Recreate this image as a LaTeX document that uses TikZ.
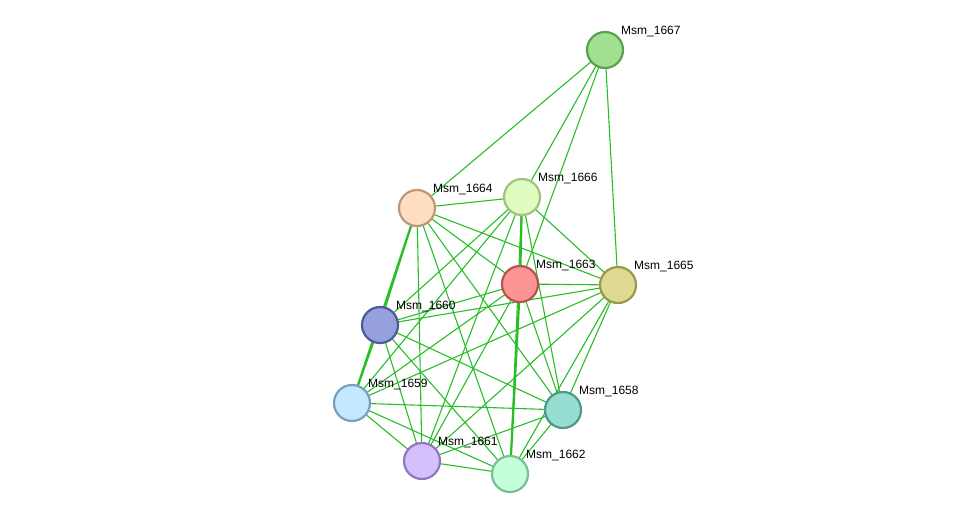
\documentclass[tikz,border=0pt]{standalone}
\usepackage{fontspec}
\setmainfont{Liberation Sans}
\definecolor{edge}{RGB}{40,190,40}
\definecolor{f1667}{RGB}{160,224,144}\definecolor{d1667}{RGB}{90,160,80}
\definecolor{f1664}{RGB}{253,222,192}\definecolor{d1664}{RGB}{190,150,120}
\definecolor{f1666}{RGB}{224,252,192}\definecolor{d1666}{RGB}{160,195,130}
\definecolor{f1663}{RGB}{252,150,150}\definecolor{d1663}{RGB}{190,80,80}
\definecolor{f1665}{RGB}{222,218,146}\definecolor{d1665}{RGB}{155,150,80}
\definecolor{f1660}{RGB}{150,160,220}\definecolor{d1660}{RGB}{80,90,150}
\definecolor{f1659}{RGB}{196,232,255}\definecolor{d1659}{RGB}{120,160,190}
\definecolor{f1658}{RGB}{150,222,210}\definecolor{d1658}{RGB}{80,150,140}
\definecolor{f1661}{RGB}{212,192,252}\definecolor{d1661}{RGB}{145,120,190}
\definecolor{f1662}{RGB}{196,255,216}\definecolor{d1662}{RGB}{125,190,150}
\begin{document}
\begin{tikzpicture}[x=1pt,y=-1pt,
  prot/.style={circle,minimum size=36pt,inner sep=0pt,line width=2.2pt},
  lab/.style={font=\fontsize{12}{12}\selectfont,anchor=south west,inner sep=1pt},
  e/.style={draw=edge,line width=1.1pt},
  et/.style={draw=edge,line width=2.2pt}]
\useasboundingbox (0,0) rectangle (976,519);
\foreach \n/\x/\y in {1667/605/50,1664/417/208,1666/522/197,1663/520/284,1665/618/285,
  1660/380/325,1659/352/403,1658/563/410,1661/422/461,1662/510/474}
  \coordinate (c\n) at (\x,\y);
\foreach \a/\b in {1667/1664,1667/1666,1667/1663,1667/1665,
 1664/1666,1664/1663,1664/1665,1664/1660,1664/1658,1664/1661,1664/1662,
 1666/1665,1666/1660,1666/1659,1666/1658,1666/1661,1666/1662,
 1663/1665,1663/1660,1663/1659,1663/1658,1663/1661,
 1665/1660,1665/1659,1665/1658,1665/1661,1665/1662,
 1660/1659,1660/1658,1660/1661,1660/1662,
 1659/1658,1659/1661,1659/1662,1658/1661,1658/1662,1661/1662}
  \path[e] (c\a) -- (c\b);
\path[et] (c1664) -- (c1659);
\path[et] (c1666) -- (c1663);
\path[et] (c1663) -- (c1662);
\foreach \n in {1667,1664,1666,1663,1665,1660,1659,1658,1661,1662}{
  \node[prot,fill=f\n,draw=d\n] (n\n) at (c\n) {};
  \node[lab] (l\n) at ([xshift=15pt,yshift=12pt]c\n) {Msm\_\n};}
\end{tikzpicture}
\end{document}
